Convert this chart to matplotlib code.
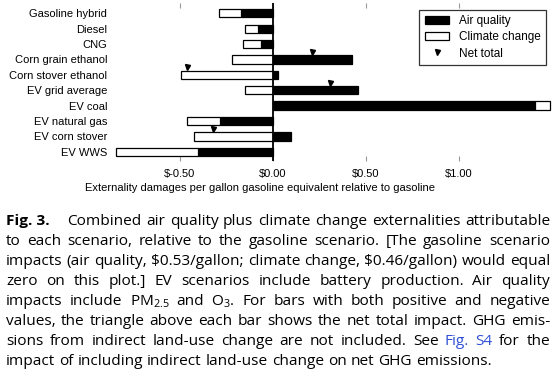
import matplotlib
matplotlib.use("Agg")
import matplotlib.pyplot as plt
import numpy as np
from matplotlib.patches import Patch
from matplotlib.lines import Line2D
from matplotlib.ticker import FuncFormatter

# ==================================================
# data (per gallon gasoline equivalent, relative to gasoline)

scenarios = [
    "Gasoline hybrid", "Diesel", "CNG", "Corn grain ethanol", "Corn stover ethanol",
    "EV grid average", "EV coal", "EV natural gas", "EV corn stover", "EV WWS",
]
air_quality = [-0.17, -0.08, -0.06, 0.43, 0.03, 0.46, 1.41, -0.28, 0.10, -0.40]
climate_change = [-0.12, -0.07, -0.10, -0.22, -0.49, -0.15, 0.08, -0.18, -0.42, -0.44]
x_ticks = [-0.5, 0.0, 0.5, 1.0]

x_label = "Externality damages per gallon gasoline equivalent relative to gasoline"
legend_labels = ["Air quality", "Climate change", "Net total"]

# '*' = bold word, '^' = link (blue) word, '~' = non-breaking space
caption_lines = [
    "*Fig.~3. Combined air quality plus climate change externalities attributable",
    "to each scenario, relative to the gasoline scenario. [The gasoline scenario",
    r"impacts (air quality, \$0.53/gallon; climate change, \$0.46/gallon) would equal",
    "zero on this plot.] EV scenarios include battery production. Air quality",
    r"impacts include PM$_{\mathrm{2.5}}$ and O$_{\mathrm{3}}$. For bars with both positive and negative",
    "values, the triangle above each bar shows the net total impact. GHG emis-",
    "sions from indirect land-use change are not included. See ^Fig. ^S4 for the",
    "impact of including indirect land-use change on net GHG emissions.",
]

# ==================================================

W, H, DPI = 560, 378, 100
plt.rcParams["font.family"] = ["Liberation Sans", "DejaVu Sans"]
plt.rcParams["mathtext.fontset"] = "custom"
plt.rcParams["mathtext.rm"] = "Open Sans"

fig = plt.figure(figsize=(W / DPI, H / DPI), dpi=DPI)

# axes placed in pixel terms
ax_left, ax_right, ax_top, ax_bottom = 110.7, 551.5, 3, 161
ax = fig.add_axes([ax_left / W, 1 - ax_bottom / H,
                   (ax_right - ax_left) / W, (ax_bottom - ax_top) / H])

air = np.array(air_quality)
clim = np.array(climate_change)
y = np.arange(len(scenarios))
bar_h = 0.54

# climate stacks on air when same sign, otherwise starts at zero
clim_left = np.where(np.sign(air) == np.sign(clim), air, 0.0)

ax.barh(y, air, height=bar_h, color="black", edgecolor="black", linewidth=0.9, zorder=2)
ax.barh(y, clim, left=clim_left, height=bar_h, color="white", edgecolor="black",
        linewidth=0.9, zorder=2)

net = air + clim
mixed = np.sign(air) != np.sign(clim)
ax.plot(net[mixed], y[mixed] - 0.5, linestyle="none", marker="v", color="black",
        markersize=3.6, zorder=3)

ax.axvline(0, color="black", linewidth=1.3, zorder=4)

ax.set_xlim(-0.87, 1.5)
ax.set_ylim(9.6, -0.67)
ax.set_yticks(y)
ax.set_yticklabels(scenarios, fontsize=8)
ax.set_xticks(x_ticks)
ax.xaxis.set_major_formatter(FuncFormatter(lambda v, p: r"\$" + f"{v:.2f}"))
for s in ax.spines.values():
    s.set_visible(False)
ax.tick_params(axis="y", length=0, pad=2.5)
ax.tick_params(axis="x", direction="in", length=3.5, width=0.8, color="#999999",
               top=True, bottom=True, labelsize=8, pad=6)
ax.set_xlabel(x_label, fontsize=8)
ax.xaxis.set_label_coords((260 - ax_left) / (ax_right - ax_left),
                          -(191 - ax_bottom) / (ax_bottom - ax_top))
ax.xaxis.label.set_va("baseline")

handles = [
    Patch(facecolor="black", edgecolor="black", linewidth=0.9),
    Patch(facecolor="white", edgecolor="black", linewidth=0.9),
    Line2D([], [], linestyle="none", marker="v", color="black", markersize=3.6),
]
leg = ax.legend(handles, legend_labels, loc="upper right",
                bbox_to_anchor=((546 - ax_left) / (ax_right - ax_left),
                                (ax_bottom - 10) / (ax_bottom - ax_top)),
                borderaxespad=0, fontsize=8.5, frameon=True, fancybox=False,
                handlelength=2.1, labelspacing=0.35, borderpad=0.45, handletextpad=0.8)
leg.get_frame().set_edgecolor("black")
leg.get_frame().set_linewidth(0.9)

# ==================================================
# justified caption

cap_size = 11.1
cap_left, cap_right = 6, 550
base0, line_step = 225, 20
renderer = fig.canvas.get_renderer()


def _word_text(word, x, yb):
    weight, color = "normal", "black"
    if word.startswith("*"):
        weight, word = "bold", word[1:]
    elif word.startswith("^"):
        color, word = "#2f4fd6", word[1:]
    return fig.text(x / W, 1 - yb / H, word.replace("~", " "), fontsize=cap_size,
                    family="Open Sans", weight=weight, color=color,
                    va="baseline", ha="left")


# width of one plain space, measured then thrown away
probe_a = _word_text("a", 0, 100)
probe_aa = _word_text("a~a", 0, 100)
space_w = probe_aa.get_window_extent(renderer).width - \
    2 * probe_a.get_window_extent(renderer).width
probe_a.remove()
probe_aa.remove()

for i, line in enumerate(caption_lines):
    yb = base0 + i * line_step
    words = line.split(" ")
    # bold figure label keeps a wide fixed gap after it
    lead_gap = 13 if words[0].startswith("*") else 0
    texts = [_word_text(w, 0, yb) for w in words]
    widths = [t.get_window_extent(renderer).width for t in texts]
    if i == len(caption_lines) - 1:
        gap = space_w
    else:
        gap = (cap_right - cap_left - lead_gap - sum(widths)) / max(len(words) - 1, 1)
    x = cap_left
    for j, (t, w) in enumerate(zip(texts, widths)):
        t.set_x(x / W)
        x += w + gap + (lead_gap if j == 0 else 0)

fig.savefig("out.png", dpi=DPI)
